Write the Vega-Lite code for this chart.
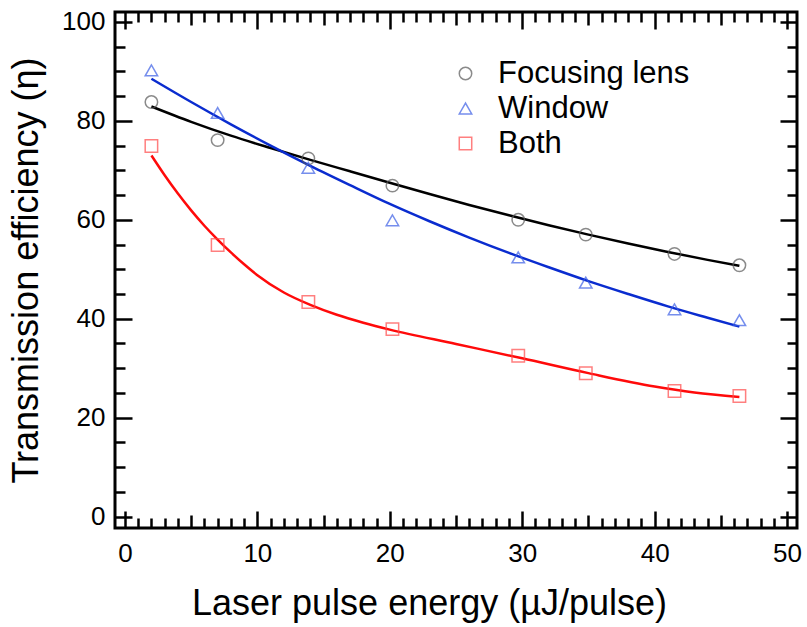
{
  "$schema": "https://vega.github.io/schema/vega-lite/v6.json",
  "width": 682,
  "height": 516,
  "autosize": {"type": "none"},
  "padding": {"left": 115, "top": 12, "right": 10, "bottom": 99},
  "config": {
    "font": "Liberation Sans",
    "view": {"stroke": "black", "strokeWidth": 3},
    "axis": {
      "grid": false,
      "domain": false,
      "tickColor": "black",
      "tickWidth": 2.5,
      "labelColor": "black",
      "titleColor": "black",
      "labelFont": "Liberation Sans",
      "titleFont": "Liberation Sans",
      "labelFontSize": 26,
      "titleFontSize": 36,
      "titleFontWeight": "normal"
    },
    "legend": {
      "labelFont": "Liberation Sans",
      "labelColor": "black",
      "labelLimit": 400
    }
  },
  "datasets": {
    "measured": [
      {"series": "Focusing lens", "energy": 2.0, "efficiency": 83.8},
      {"series": "Focusing lens", "energy": 7.0, "efficiency": 76.1},
      {"series": "Focusing lens", "energy": 13.85, "efficiency": 72.4},
      {"series": "Focusing lens", "energy": 20.2, "efficiency": 66.9},
      {"series": "Focusing lens", "energy": 29.7, "efficiency": 60.0},
      {"series": "Focusing lens", "energy": 34.8, "efficiency": 57.0},
      {"series": "Focusing lens", "energy": 41.5, "efficiency": 53.1},
      {"series": "Focusing lens", "energy": 46.4, "efficiency": 50.8},
      {"series": "Window", "energy": 2.0, "efficiency": 90.2},
      {"series": "Window", "energy": 7.0, "efficiency": 81.6},
      {"series": "Window", "energy": 13.85, "efficiency": 70.5},
      {"series": "Window", "energy": 20.2, "efficiency": 59.9},
      {"series": "Window", "energy": 29.7, "efficiency": 52.4},
      {"series": "Window", "energy": 34.8, "efficiency": 47.3},
      {"series": "Window", "energy": 41.5, "efficiency": 41.9},
      {"series": "Window", "energy": 46.4, "efficiency": 39.7},
      {"series": "Both", "energy": 2.0, "efficiency": 74.9},
      {"series": "Both", "energy": 7.0, "efficiency": 54.9},
      {"series": "Both", "energy": 13.85, "efficiency": 43.4},
      {"series": "Both", "energy": 20.2, "efficiency": 37.9},
      {"series": "Both", "energy": 29.7, "efficiency": 32.5},
      {"series": "Both", "energy": 34.8, "efficiency": 29.0},
      {"series": "Both", "energy": 41.5, "efficiency": 25.4},
      {"series": "Both", "energy": 46.4, "efficiency": 24.4}
    ],
    "fitted": [
      {"series": "Focusing lens", "energy": 2, "efficiency": 82.9},
      {"series": "Focusing lens", "energy": 5, "efficiency": 79.8},
      {"series": "Focusing lens", "energy": 8, "efficiency": 77.0},
      {"series": "Focusing lens", "energy": 11, "efficiency": 74.5},
      {"series": "Focusing lens", "energy": 14, "efficiency": 72.1},
      {"series": "Focusing lens", "energy": 17, "efficiency": 69.8},
      {"series": "Focusing lens", "energy": 20, "efficiency": 67.5},
      {"series": "Focusing lens", "energy": 23, "efficiency": 65.2},
      {"series": "Focusing lens", "energy": 26, "efficiency": 63.0},
      {"series": "Focusing lens", "energy": 29, "efficiency": 60.9},
      {"series": "Focusing lens", "energy": 32, "efficiency": 58.9},
      {"series": "Focusing lens", "energy": 35, "efficiency": 57.0},
      {"series": "Focusing lens", "energy": 38, "efficiency": 55.2},
      {"series": "Focusing lens", "energy": 41, "efficiency": 53.5},
      {"series": "Focusing lens", "energy": 44, "efficiency": 51.9},
      {"series": "Focusing lens", "energy": 46.4, "efficiency": 50.7},
      {"series": "Window", "energy": 2, "efficiency": 88.5},
      {"series": "Window", "energy": 5, "efficiency": 83.8},
      {"series": "Window", "energy": 8, "efficiency": 79.3},
      {"series": "Window", "energy": 11, "efficiency": 75.0},
      {"series": "Window", "energy": 14, "efficiency": 70.9},
      {"series": "Window", "energy": 17, "efficiency": 67.0},
      {"series": "Window", "energy": 20, "efficiency": 63.2},
      {"series": "Window", "energy": 23, "efficiency": 59.7},
      {"series": "Window", "energy": 26, "efficiency": 56.4},
      {"series": "Window", "energy": 29, "efficiency": 53.3},
      {"series": "Window", "energy": 32, "efficiency": 50.4},
      {"series": "Window", "energy": 35, "efficiency": 47.6},
      {"series": "Window", "energy": 38, "efficiency": 45.0},
      {"series": "Window", "energy": 41, "efficiency": 42.5},
      {"series": "Window", "energy": 44, "efficiency": 40.2},
      {"series": "Window", "energy": 46.4, "efficiency": 38.4},
      {"series": "Both", "energy": 2, "efficiency": 73.0},
      {"series": "Both", "energy": 3, "efficiency": 69.0},
      {"series": "Both", "energy": 4, "efficiency": 65.3},
      {"series": "Both", "energy": 5, "efficiency": 61.9},
      {"series": "Both", "energy": 6, "efficiency": 58.8},
      {"series": "Both", "energy": 7, "efficiency": 56.0},
      {"series": "Both", "energy": 8, "efficiency": 53.4},
      {"series": "Both", "energy": 9, "efficiency": 51.0},
      {"series": "Both", "energy": 10, "efficiency": 48.8},
      {"series": "Both", "energy": 12, "efficiency": 45.3},
      {"series": "Both", "energy": 14, "efficiency": 42.8},
      {"series": "Both", "energy": 16, "efficiency": 40.8},
      {"series": "Both", "energy": 18, "efficiency": 39.2},
      {"series": "Both", "energy": 20, "efficiency": 37.8},
      {"series": "Both", "energy": 25, "efficiency": 34.9},
      {"series": "Both", "energy": 30, "efficiency": 32.0},
      {"series": "Both", "energy": 35, "efficiency": 29.0},
      {"series": "Both", "energy": 40, "efficiency": 26.3},
      {"series": "Both", "energy": 43, "efficiency": 25.1},
      {"series": "Both", "energy": 46.4, "efficiency": 24.2}
    ]
  },
  "layer": [
    {
      "data": {"name": "fitted"},
      "mark": {"type": "line", "interpolate": "monotone", "strokeWidth": 2.5},
      "encoding": {
        "x": {
          "field": "energy", "type": "quantitative",
          "scale": {"domain": [-0.75, 50.75], "nice": false, "zero": false},
          "axis": {"orient": "bottom", "values": [0, 10, 20, 30, 40, 50], "ticks": false, "labelPadding": 12, "title": "Laser pulse energy (µJ/pulse)", "titlePadding": 20, "titleX": 314}
        },
        "y": {
          "field": "efficiency", "type": "quantitative",
          "scale": {"domain": [-2.3, 102], "nice": false, "zero": false},
          "axis": {"orient": "left", "values": [0, 20, 40, 60, 80, 100], "ticks": false, "labelPadding": 10, "title": "Transmission efficiency (η)", "titlePadding": 16}
        },
        "stroke": {
          "field": "series", "type": "nominal",
          "scale": {"domain": ["Both", "Focusing lens", "Window"], "range": ["#ff0a0a", "#000000", "#0a2ccf"]},
          "legend": null
        },
        "detail": {"field": "series"}
      }
    },
    {
      "data": {"name": "measured"},
      "mark": {"type": "point", "filled": false, "size": 155, "strokeWidth": 1.5},
      "encoding": {
        "x": {"field": "energy", "type": "quantitative", "axis": {"orient": "bottom", "values": [0, 10, 20, 30, 40, 50], "tickSize": -17, "labels": false, "title": null}},
        "y": {"field": "efficiency", "type": "quantitative", "axis": {"orient": "left", "values": [0, 20, 40, 60, 80, 100], "tickSize": -17, "labels": false, "title": null}},
        "color": {
          "field": "series", "type": "nominal",
          "scale": {"domain": ["Focusing lens", "Window", "Both"], "range": ["#5a5a5a", "#3c5fe6", "#ff4a4a"]},
          "legend": {"orient": "none", "legendX": 335, "legendY": 46, "title": null, "padding": 0, "labelFontSize": 31, "symbolSize": 155, "symbolStrokeWidth": 1.5, "labelOffset": 17, "rowPadding": 3}
        },
        "shape": {
          "field": "series", "type": "nominal",
          "scale": {"domain": ["Focusing lens", "Window", "Both"], "range": ["circle", "triangle-up", "square"]},
          "legend": {"orient": "none", "legendX": 335, "legendY": 46, "title": null, "padding": 0, "labelFontSize": 31, "symbolSize": 155, "symbolStrokeWidth": 1.5, "labelOffset": 17, "rowPadding": 3}
        }
      }
    },
    {
      "data": {"name": "measured"},
      "mark": {"type": "point", "opacity": 0},
      "encoding": {
        "x": {"field": "energy", "type": "quantitative", "axis": {"orient": "bottom", "values": [5, 15, 25, 35, 45], "tickSize": -13, "labels": false, "title": null}},
        "y": {"field": "efficiency", "type": "quantitative", "axis": {"orient": "left", "values": [5, 10, 15, 25, 30, 35, 45, 50, 55, 65, 70, 75, 85, 90, 95], "tickSize": -10, "labels": false, "title": null}}
      }
    },
    {
      "data": {"name": "measured"},
      "mark": {"type": "point", "opacity": 0},
      "encoding": {
        "x": {"field": "energy", "type": "quantitative", "axis": {"orient": "bottom", "values": [1, 2, 3, 4, 6, 7, 8, 9, 11, 12, 13, 14, 16, 17, 18, 19, 21, 22, 23, 24, 26, 27, 28, 29, 31, 32, 33, 34, 36, 37, 38, 39, 41, 42, 43, 44, 46, 47, 48, 49], "tickSize": -10, "labels": false, "title": null}},
        "y": {"field": "efficiency", "type": "quantitative", "axis": {"orient": "right", "values": [0, 20, 40, 60, 80, 100], "tickSize": -17, "labels": false, "title": null}}
      }
    },
    {
      "data": {"name": "measured"},
      "mark": {"type": "point", "opacity": 0},
      "encoding": {
        "x": {"field": "energy", "type": "quantitative", "axis": {"orient": "top", "values": [0, 10, 20, 30, 40, 50], "tickSize": -17, "labels": false, "title": null}},
        "y": {"field": "efficiency", "type": "quantitative", "axis": {"orient": "right", "values": [5, 10, 15, 25, 30, 35, 45, 50, 55, 65, 70, 75, 85, 90, 95], "tickSize": -10, "labels": false, "title": null}}
      }
    },
    {
      "data": {"name": "measured"},
      "mark": {"type": "point", "opacity": 0},
      "encoding": {
        "x": {"field": "energy", "type": "quantitative", "axis": {"orient": "top", "values": [5, 15, 25, 35, 45], "tickSize": -13, "labels": false, "title": null}},
        "y": {"field": "efficiency", "type": "quantitative", "axis": null}
      }
    },
    {
      "data": {"name": "measured"},
      "mark": {"type": "point", "opacity": 0},
      "encoding": {
        "x": {"field": "energy", "type": "quantitative", "axis": {"orient": "top", "values": [1, 2, 3, 4, 6, 7, 8, 9, 11, 12, 13, 14, 16, 17, 18, 19, 21, 22, 23, 24, 26, 27, 28, 29, 31, 32, 33, 34, 36, 37, 38, 39, 41, 42, 43, 44, 46, 47, 48, 49], "tickSize": -10, "labels": false, "title": null}},
        "y": {"field": "efficiency", "type": "quantitative", "axis": null}
      }
    }
  ]
}
